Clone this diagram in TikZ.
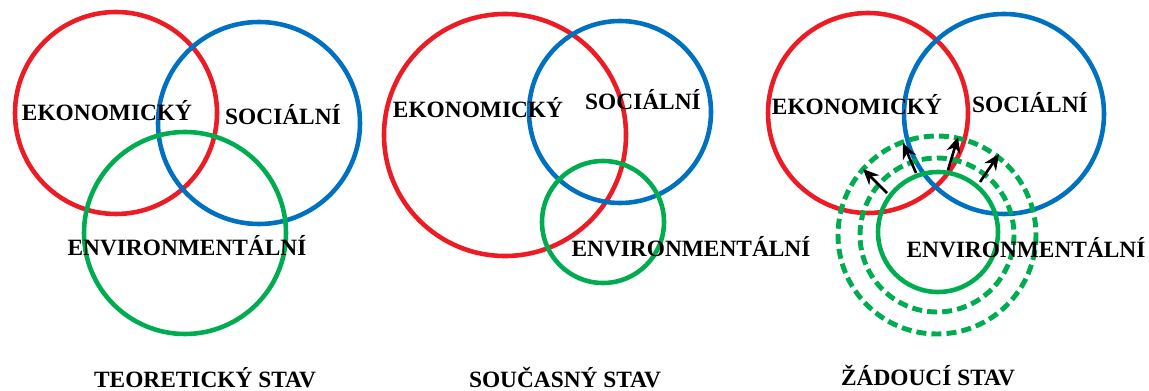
\documentclass[tikz,border=0pt]{standalone}
\usepackage{fontspec}
\setmainfont{Liberation Serif}
\usetikzlibrary{arrows.meta}
\definecolor{ekored}{RGB}{237,28,36}
\definecolor{socblue}{RGB}{0,112,192}
\definecolor{envgreen}{RGB}{0,172,80}
\tikzset{
  ring/.style={line width=2.6pt},
  halo/.style={envgreen, line width=2.8pt, dash pattern=on 5.7pt off 2.9pt},
  lbl/.style={font=\bfseries\fontsize{13.3}{15}\selectfont, anchor=base, inner sep=0pt},
  push/.style={-{Stealth[length=9pt,width=8pt]}, line width=1.5pt}
}
\begin{document}
\begin{tikzpicture}[x=0.02cm,y=-0.02cm]
  \useasboundingbox (0,0) rectangle (1149,391);
  % teoreticky stav
  \draw[ring,ekored] (116,113) circle (101);
  \draw[ring,socblue] (259,123) circle (101);
  \draw[ring,envgreen] (185,233) circle (101);
  \node[lbl] (eko1) at (107,120.5) {EKONOMICKÝ};
  \node[lbl] (soc1) at (283,124.5) {SOCIÁLNÍ};
  \node[lbl] (env1) at (187,255.5) {ENVIRONMENTÁLNÍ};
  \node[lbl] (stav1) at (205,387.5) {TEORETICKÝ STAV};
  % soucasny stav
  \draw[ring,ekored] (505,135) circle (121);
  \draw[ring,socblue] (620,112) circle (91);
  \draw[ring,envgreen] (603,222) circle (61);
  \node[lbl] (eko2) at (478,117.5) {EKONOMICKÝ};
  \node[lbl] (soc2) at (643,109.5) {SOCIÁLNÍ};
  \node[lbl] (env2) at (691,256.5) {ENVIRONMENTÁLNÍ};
  \node[lbl] (stav2) at (565,387.5) {SOUČASNÝ STAV};
  % zadouci stav
  \draw[ring,ekored] (868,113) circle (100);
  \draw[ring,socblue] (1004,114) circle (100);
  \draw[ring,envgreen] (938,232) circle (60);
  \draw[halo] (937,235) circle (77);
  \draw[halo] (937,235) circle (99);
  \coordinate (s1) at (887,193); \coordinate (t1) at (863,169);
  \coordinate (s2) at (916,173); \coordinate (t2) at (903,143);
  \coordinate (s3) at (948,170); \coordinate (t3) at (958,137);
  \coordinate (s4) at (980,182); \coordinate (t4) at (999,154);
  \draw[push] (s1) -- (t1);
  \draw[push] (s2) -- (t2);
  \draw[push] (s3) -- (t3);
  \draw[push] (s4) -- (t4);
  \node[lbl] (eko3) at (857,114.5) {EKONOMICKÝ};
  \node[lbl] (soc3) at (1030,112.5) {SOCIÁLNÍ};
  \node[lbl] (env3) at (1026,257.5) {ENVIRONMENTÁLNÍ};
  \node[lbl] (stav3) at (928,385.5) {ŽÁDOUCÍ STAV};
\end{tikzpicture}
\end{document}
